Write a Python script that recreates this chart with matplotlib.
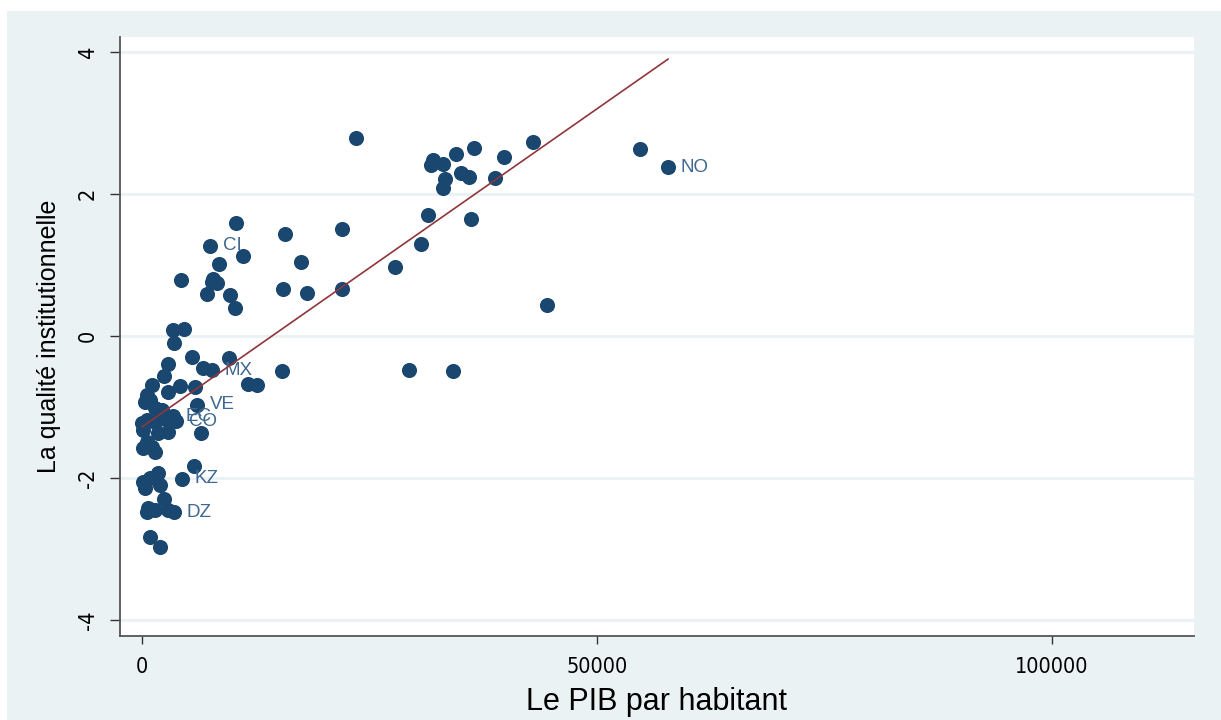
import matplotlib
matplotlib.use("Agg")
import matplotlib.pyplot as plt
from matplotlib.patches import Rectangle
import numpy as np

# --- data ---
# unlabelled countries: GDP per capita and institutional quality
gdp = [23516, 54725, 42967, 36483, 34505, 39780, 31978, 31758, 33077, 35055,
       35934, 38791, 33297, 33077, 31429, 36154, 30659, 27802, 21978, 21978,
       44505, 29341, 34176, 15714, 10330, 17473, 15495, 18132, 15385, 11099,
       8462, 7802, 8242, 7692, 7143, 9670, 10220, 4286, 3407, 4615,
       3516, 5495, 2857, 6703, 9560, 2418, 11648, 12637, 1099, 4176,
       5824, 2857, 549, 879, 330, 1429, 2198, 2747, 549, 0,
       2527, 1429, 110, 1758, 2857, 6484, 549, 110, 1429, 1099,
       5714, 1758, 110, 879, 1978, 330, 2418, 659, 549, 1429,
       2857, 879, 1978]
qual = [2.79, 2.63, 2.73, 2.65, 2.56, 2.52, 2.48, 2.41, 2.42, 2.30,
        2.24, 2.23, 2.21, 2.08, 1.70, 1.65, 1.30, 0.97, 1.51, 0.66,
        0.44, -0.48, -0.49, 1.44, 1.59, 1.04, 0.66, 0.61, -0.49, 1.13,
        1.01, 0.80, 0.75, 0.76, 0.59, 0.58, 0.39, 0.79, 0.08, 0.10,
        -0.10, -0.30, -0.39, -0.45, -0.31, -0.56, -0.68, -0.69, -0.69, -0.70,
        -0.72, -0.79, -0.83, -0.90, -0.93, -1.01, -1.04, -1.14, -1.18, -1.23,
        -1.17, -1.21, -1.32, -1.37, -1.35, -1.37, -1.49, -1.58, -1.63, -1.56,
        -1.83, -1.93, -2.06, -2.00, -2.10, -2.14, -2.30, -2.42, -2.48, -2.45,
        -2.45, -2.83, -2.97]

# labelled countries
lab_code = ["NO", "CI", "MX", "VE", "EC", "CO", "KZ", "DZ"]
lab_gdp = [57802, 7473, 7692, 6044, 3407, 3736, 4396, 3516]
lab_qual = [2.38, 1.27, -0.48, -0.97, -1.13, -1.20, -2.01, -2.48]

# linear fit
fit_intercept = -1.28
fit_slope = 8.96e-5

xticks = [0, 50000, 100000]
yticks = [-4, -2, 0, 2, 4]

# --- style ---
bg = "#eaf2f3"
navy = "#1a476f"
maroon = "#90353b"
plt.rcParams["axes.unicode_minus"] = False
plt.rcParams["font.family"] = ["Liberation Sans", "DejaVu Sans"]

fig = plt.figure(figsize=(12.21, 7.20), dpi=100)
fig.patch.set_facecolor("white")
fig.add_artist(Rectangle((7 / 1221, 0), 1, 1 - 11 / 720,
                         transform=fig.transFigure, facecolor=bg,
                         edgecolor="none", zorder=-10))

ax = fig.add_axes([120 / 1221, 1 - 636 / 720, (1194 - 120) / 1221, (636 - 37) / 720])
ax.set_facecolor("white")

all_x = np.array(gdp + lab_gdp, dtype=float)
all_y = np.array(qual + lab_qual, dtype=float)

ax.scatter(all_x, all_y, s=118, color=navy, linewidths=0, zorder=3)

for code, x, y in zip(lab_code, lab_gdp, lab_qual):
    ax.annotate(code, (x, y), xytext=(9, 0), textcoords="offset points",
                ha="left", va="center", fontsize=13.5, color="#3f6790", zorder=4)

fx = np.array([all_x.min(), all_x.max()])
ax.plot(fx, fit_intercept + fit_slope * fx, color=maroon, lw=1.2, zorder=4)

ax.set_xlim(-2418, 115604)
ax.set_ylim(-4.225, 4.211)
ax.set_xticks(xticks)
ax.set_yticks(yticks)
ax.set_xticklabels([str(v) for v in xticks], family="DejaVu Sans",
                   stretch="condensed", fontsize=15.5)
ax.set_yticklabels([str(v) for v in yticks], family="DejaVu Sans",
                   stretch="condensed", fontsize=15.5, rotation=90, va="center")

ax.grid(axis="y", color=bg, lw=2.2, zorder=0)
ax.set_axisbelow(True)
for side in ["top", "right"]:
    ax.spines[side].set_visible(False)
for side in ["left", "bottom"]:
    ax.spines[side].set_color("#555555")
    ax.spines[side].set_linewidth(1.3)
ax.tick_params(axis="y", length=7, width=1, color="#333333", pad=9)
ax.tick_params(axis="x", length=6, width=1, color="#333333", pad=9)

ax.set_xlabel("Le PIB par habitant", fontsize=22, labelpad=7)
ax.set_ylabel("La qualité institutionnelle", fontsize=18, labelpad=12)

fig.savefig("out.png", dpi=100, facecolor=fig.get_facecolor())
